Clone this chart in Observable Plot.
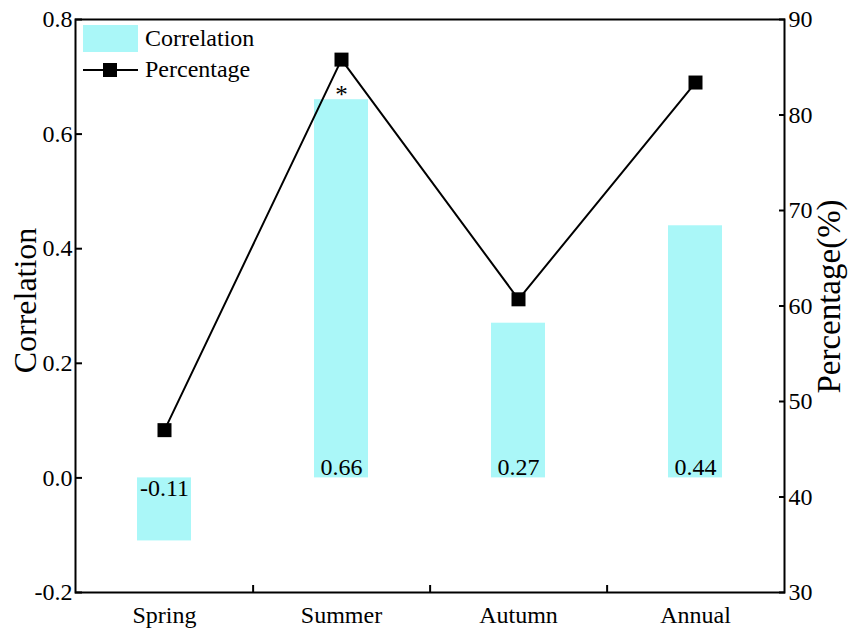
<!DOCTYPE html>
<html><head><meta charset="utf-8">
<script src="https://cdn.jsdelivr.net/npm/d3@7"></script>
<script src="https://cdn.jsdelivr.net/npm/@observablehq/plot@0.6"></script>
<style>
body{margin:0;background:#fff;}
#wrap{position:relative;width:851px;height:633px;font-family:"Liberation Serif","Times New Roman",serif;color:#000;}
#legend{position:absolute;left:83px;top:25px;font-size:24px;line-height:1;}
.swatch{position:absolute;left:0;width:55px;height:27px;}
.lline{position:absolute;left:0;width:55px;height:2px;background:#000;}
.lsq{position:absolute;left:20px;width:14px;height:14px;background:#000;}
.ltext{position:absolute;left:62px;white-space:nowrap;}
</style></head><body><div id="wrap"></div>
<script>
const seasons = ["Spring", "Summer", "Autumn", "Annual"];
const correlation = [-0.11, 0.66, 0.27, 0.44];
const percentage = [47.0, 85.8, 60.7, 83.4];
const significance = ["", "*", "", ""];
const corrTicks = [-0.2, 0.0, 0.2, 0.4, 0.6, 0.8];
const pctTicks = [30, 40, 50, 60, 70, 80, 90];
const corrDomain = [-0.2, 0.8];
const pctDomain = [30, 90];
const CYAN = "#aaf7f8";
const FONT = "Liberation Serif, Times New Roman, serif";

const toCorr = p => corrDomain[0] + (p - pctDomain[0]) / (pctDomain[1] - pctDomain[0]) * (corrDomain[1] - corrDomain[0]);
const toPct = c => pctDomain[0] + (c - corrDomain[0]) / (corrDomain[1] - corrDomain[0]) * (pctDomain[1] - pctDomain[0]);

const rows = seasons.map((s, i) => ({season: s, corr: correlation[i], pct: percentage[i], pctY: toCorr(percentage[i]), sig: significance[i]}));

const W = 851, H = 633, mL = 75, mR = 67, mT = 19, mB = 41;
const step = (W - mL - mR) / seasons.length;

const chart = Plot.plot({
  width: W, height: H, marginLeft: mL, marginRight: mR, marginTop: mT, marginBottom: mB,
  style: {fontFamily: FONT, fontSize: "24px", color: "black", background: "white", overflow: "visible"},
  x: {domain: seasons, paddingInner: 0.695, paddingOuter: 0.3475},
  y: {domain: corrDomain},
  marks: [
    Plot.barY(rows, {x: "season", y: "corr", fill: CYAN}),
    Plot.line(rows, {x: "season", y: "pctY", stroke: "black", strokeWidth: 2}),
    Plot.dot(rows, {x: "season", y: "pctY", symbol: "square", r: 7.9, fill: "black", stroke: "none"}),
    Plot.text(rows.filter(d => d.corr >= 0), {x: "season", y: 0, text: d => d.corr.toFixed(2), lineAnchor: "bottom", dy: -3, fontSize: 24, fontFamily: FONT, fill: "black"}),
    Plot.text(rows.filter(d => d.corr < 0), {x: "season", y: 0, text: d => d.corr.toFixed(2), lineAnchor: "top", dy: 1, fontSize: 24, fontFamily: FONT, fill: "black"}),
    Plot.text(rows.filter(d => d.sig), {x: "season", y: "corr", text: "sig", lineAnchor: "bottom", dy: 3, fontSize: 25, fontFamily: FONT, fill: "black"}),
    Plot.frame({stroke: "black", strokeWidth: 2}),
    Plot.axisY(corrTicks, {anchor: "left", tickSize: -7, strokeWidth: 2, text: null, label: null}),
    Plot.axisY(corrTicks, {anchor: "left", tickSize: 0, tickPadding: 3, tickFormat: d => d.toFixed(1), fontSize: 24, fontFamily: FONT, label: null}),
    Plot.axisY(pctTicks.map(toCorr), {anchor: "right", tickSize: -6, strokeWidth: 2, text: null, label: null}),
    Plot.axisY(pctTicks.map(toCorr), {anchor: "right", tickSize: 0, tickPadding: 4, tickFormat: v => String(Math.round(toPct(v))), fontSize: 24, fontFamily: FONT, label: null}),
    Plot.axisX(seasons, {anchor: "bottom", tickSize: 0, tickPadding: 13, fontSize: 24, fontFamily: FONT, label: null}),
    Plot.axisX(seasons.slice(0, seasons.length - 1), {anchor: "bottom", tickSize: -7, strokeWidth: 2, text: null, label: null, dx: step / 2}),
    Plot.text(["Correlation"], {frameAnchor: "left", rotate: -90, dx: -40, dy: -5.5, lineAnchor: "bottom", textAnchor: "middle", fontSize: 32, fontFamily: FONT, fill: "black"}),
    Plot.text(["Percentage(%)"], {frameAnchor: "right", rotate: -90, dx: 55, dy: -9.5, lineAnchor: "bottom", textAnchor: "middle", fontSize: 33, fontFamily: FONT, fill: "black"})
  ]
});

const wrap = document.getElementById("wrap");
wrap.appendChild(chart);
const legend = document.createElement("div");
legend.id = "legend";
legend.innerHTML = `
  <div class="swatch" style="top:0;background:${CYAN}"></div>
  <div class="ltext" style="top:1px">Correlation</div>
  <div class="lline" style="top:44px"></div>
  <div class="lsq" style="top:38px"></div>
  <div class="ltext" style="top:32px">Percentage</div>`;
wrap.appendChild(legend);
</script>
</body></html>
